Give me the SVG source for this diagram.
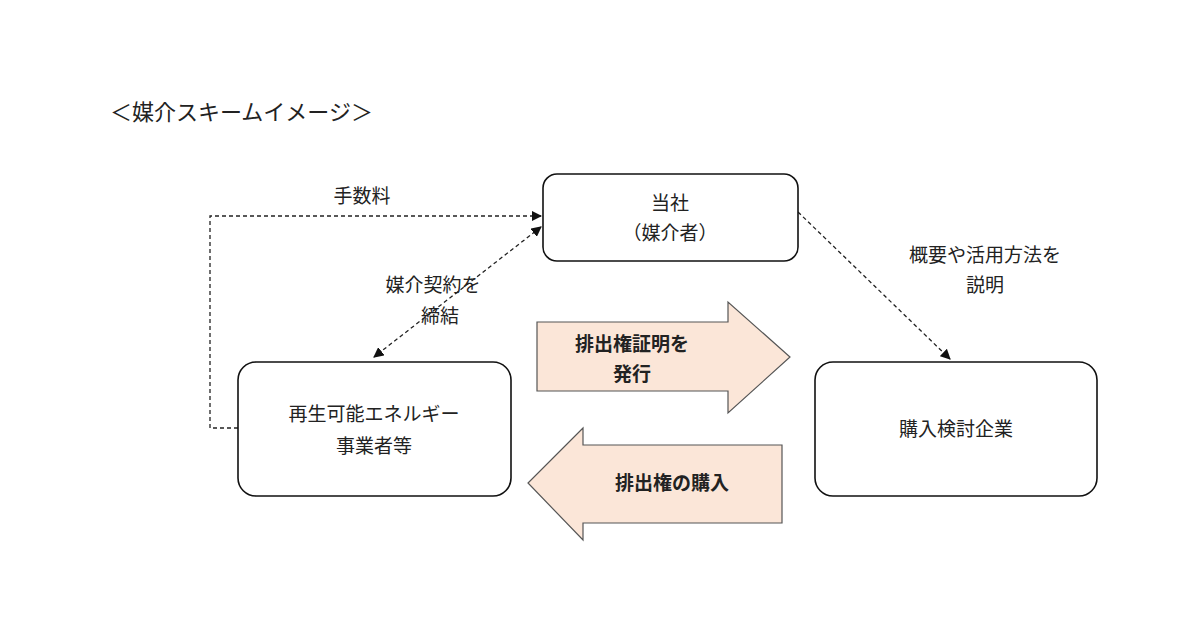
<svg xmlns="http://www.w3.org/2000/svg" width="1200" height="628" viewBox="0 0 1200 628">
<style>
text{font-family:"Noto Sans CJK JP","Noto Sans CJK SC",sans-serif;font-size:19px;fill:#222;text-anchor:middle}
.t{font-family:"Noto Serif CJK JP","Noto Sans CJK JP",serif}
.node{fill:#fff;stroke:#111;stroke-width:1.6}
.dash{fill:none;stroke:#222;stroke-width:1.3;stroke-dasharray:4 3}
.big{fill:#fbe6d8;stroke:#555;stroke-width:1.2}
.b{font-weight:bold}
</style>
<defs><marker id="a" viewBox="0 0 10 10" refX="9" refY="5" markerWidth="8" markerHeight="8" orient="auto-start-reverse"><path d="M0,0L10,5L0,10z" fill="#111"/></marker></defs>
<rect width="1200" height="628" fill="#fff"/>
<text x="110" y="120" style="text-anchor:start;font-size:22px">＜媒介スキームイメージ＞</text>
<g id="connectors">
<polyline class="dash" points="238,428 210,428 210,216 541,216" marker-end="url(#a)"/>
<line class="dash" x1="541" y1="227" x2="374" y2="357" marker-start="url(#a)" marker-end="url(#a)"/>
<line class="dash" x1="798" y1="212" x2="950" y2="359" marker-end="url(#a)"/>
<text x="362" y="203">手数料</text>
<text x="433" y="292">媒介契約を</text>
<text x="440" y="323">締結</text>
<text x="985" y="262">概要や活用方法を</text>
<text x="985" y="292">説明</text>
</g>
<g id="touchan"><rect class="node" x="543" y="174" width="255" height="87" rx="14"/><text x="670" y="210">当社</text><text x="670" y="240">（媒介者）</text></g>
<g id="saisei"><rect class="node" x="238" y="362" width="273" height="134" rx="18"/><text x="374" y="421">再生可能エネルギー</text><text x="374" y="453">事業者等</text></g>
<g id="kounyu"><rect class="node" x="815" y="362" width="282" height="134" rx="18"/><text x="956" y="436">購入検討企業</text></g>
<g id="arrow1"><path class="big" d="M537,322H728V302L790,357L728,413V391H537Z"/><text class="b" x="632" y="351">排出権証明を</text><text class="b" x="632" y="381">発行</text></g>
<g id="arrow2"><path class="big" d="M782,445H583V428L528,483L583,540V523H782Z"/><text class="b" x="672" y="490">排出権の購入</text></g>
</svg>
